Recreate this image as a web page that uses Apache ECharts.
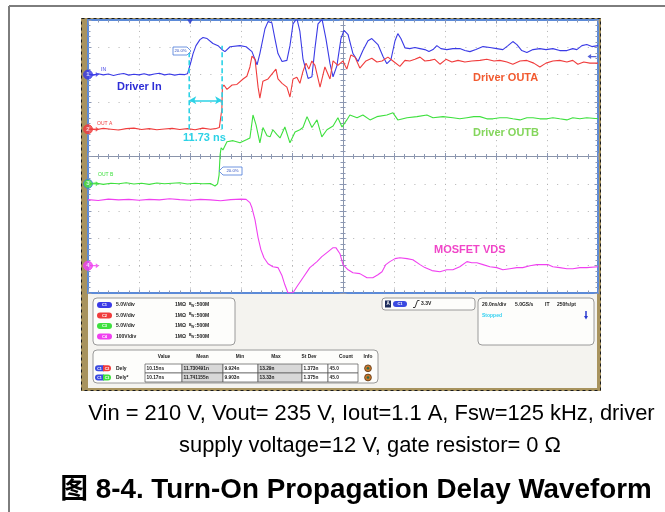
<!DOCTYPE html>
<html><head><meta charset="utf-8">
<script src="https://cdn.jsdelivr.net/npm/echarts@6.0.0/dist/echarts.min.js"></script>
<style>html,body{margin:0;padding:0;background:#fff}#c{width:665px;height:512px}</style>
</head><body><div id="c"></div>
<script>
// ---- time base (ns) ----
const TIME_MIN = -40, TIME_MAX = 160, TIME_DIV = 20;
const DIVS = 10;
// ---- channel settings ----
const chNames = ['IN', 'OUT A', 'OUT B', 'VDS'];
const chColors = ['#3a3ae6', '#f03c3c', '#3ee03e', '#f040f0'];
const chVoltsPerDiv = [5, 5, 5, 100];
const chGroundDiv = [8, 6, 4, 1];
const chScaleLabels = ['5.0V/div', '5.0V/div', '5.0V/div', '100V/div'];

// ---- traces: [time ns, volts] ----
const driverIn = [
[-40,0.1],[-38,-0.1],[-36,0.15],[-34,-0.05],[-32,0.1],[-30,-0.15],[-28,0.05],[-26,0.2],[-24,-0.1],[-22,0.05],[-20,-0.05],[-18,0.15],[-16,-0.1],[-14,0.1],[-12,0.25],[-10,-0.05],[-8,0.1],[-6,-0.1],[-4,0.05],[-2,0],[-1,0.15],
[-0.8,0.2],[-0.4,1.1],[0.4,2.4],[1.2,3.85],[2.35,5.3],[3.9,6.4],[5.1,6.8],[6.7,6.6],[9.0,5.7],[11,5.3],[12.5,4.6],[13.7,4.2],[15.7,5.1],[19.6,5.3],[22,5.1],[24.3,4.2],[26.3,1.8],[27.4,3.85],[29.4,8.4],[30.6,9.7],[32.1,9.5],[33.3,6.6],[34.5,3.85],[36.1,2.4],[38,2.6],[39.2,5.3],[40.4,9.3],[41.9,10.3],[43.1,7.9],[44.3,2.9],[46.3,-0.7],[47.8,-0.4],[49,4.8],[50.2,9.3],[51.8,10.1],[53.3,6.6],[54.9,2.0],[56.1,-0.4],[57.6,1.6],[59.2,6.6],[60.4,8.1],[62,7.3],[63.9,3.85],[65.9,2.4],[67.8,4.4],[69.8,6.2],[71.3,6.6],[73.7,5.5],[75.7,3.3],[77.2,2.0],[78.8,2.75],[80.4,6.2],[81.5,7.5],[82.7,6.6],[84.3,4.9],[86.2,4.76],[88.2,4.95],[90.2,4.76],[92.1,4.58],[93.7,4.21],[95.3,4.58],[96.8,5.31],[98.4,4.76],[100.7,4.58],[103.1,4.76],[105.8,4.76],[107.8,4.4],[109.8,4.21],[112.1,4.58],[114.9,5.13],[117.6,4.95],[120.3,4.76],[122.7,4.58],[124.7,5.31],[126.6,6.05],[128.2,5.5],[130.1,4.4],[132.1,4.03],[134.5,4.58],[137.2,4.76],[139.6,4.58],[142.3,4.76],[145,4.4],[147.8,4.4],[150.1,4.76],[151.7,4.58],[153.7,5.31],[155.6,5.5],[157.6,5.13],[160,5.31]
];
const driverOutA = [
[-40,0.1],[-37,-0.1],[-34,0.15],[-31,0],[-28,-0.15],[-25,0.1],[-22,0.2],[-19,-0.05],[-16,0.1],[-13,-0.1],[-10,0.05],[-7,0.15],[-4,-0.05],[-1,0.1],[2,-0.1],[5,0.2],[8,0],[10,0.1],[11.5,0.3],
[12.2,0.5],[12.5,3.7],[12.7,7.7],[13.3,8.1],[14.5,7.3],[16.5,8.1],[18.4,8.2],[20.8,9.2],[22.3,9.7],[23.5,11.4],[24.3,13.4],[25.5,12.8],[26.7,7.7],[27.4,5.7],[28.6,8.8],[30.6,9.2],[32.5,10.3],[33.7,11.0],[34.5,9.2],[36.1,8.4],[38,7.7],[39.2,5.9],[40.4,9.2],[41.9,9.5],[43.1,8.4],[44.3,10.6],[45.5,12.1],[46.6,11.0],[47.8,12.5],[49,11.7],[51,7.7],[52.9,11.4],[54.9,9.2],[56.1,12.5],[58,11.7],[60,12.5],[61.5,11.0],[63.1,13.6],[64.7,13.2],[66.6,11.2],[69,12.5],[71.3,13.0],[73.3,12.3],[75.3,12.5],[77.6,13.2],[79.6,12.5],[82.3,11.5],[84.3,12.6],[86.2,12.5],[88.2,12.8],[90.2,13.2],[92.1,12.5],[94.1,12.6],[96,12.8],[98,11.9],[100.4,12.8],[102.7,12.3],[105.1,12.6],[107.8,12.3],[110.5,12.5],[113.7,12.6],[116.4,12.8],[119.2,12.5],[121.5,12.6],[124.3,12.3],[126.6,11.9],[129.4,12.5],[132.1,12.6],[134.8,12.1],[137.2,11.4],[139.6,12.1],[142.3,12.5],[145,12.6],[147.8,12.3],[150.1,12.6],[152.1,11.9],[154.4,12.3],[156.8,12.1],[160,12.1]
];
const driverOutB = [
[-40,0],[-37,0.15],[-34,-0.1],[-31,0.1],[-28,0],[-25,0.2],[-22,-0.05],[-19,0.1],[-16,-0.1],[-13,0.15],[-10,0],[-7,0.1],[-4,0.2],[-1,-0.05],[2,0.1],[5,0],[8,0.05],[9.8,-0.4],[10.8,0],
[11,0.5],[11.4,1.6],[11.8,5.3],[12.2,6.6],[12.9,6.2],[14.5,7.7],[16.9,7.9],[19.6,7.5],[22.3,8.1],[23.5,8.4],[24.7,12.6],[25.9,10.8],[27.4,7.5],[28.6,10.3],[30.2,8.8],[31.4,8.6],[32.5,9.9],[34.1,9.0],[35.3,8.4],[37.2,10.4],[39.2,7.5],[41.2,9.5],[43.1,9.9],[44.3,10.3],[45.9,12.3],[47.8,10.3],[49.8,11.7],[51.7,8.6],[53.7,9.9],[56.1,10.6],[58,12.1],[59.6,10.4],[61.5,11.7],[62.7,12.6],[65.5,12.1],[67.8,12.6],[70.6,11.7],[73.3,12.3],[77.2,12.6],[79.6,13.0],[81.5,11.7],[85.1,12.1],[89,12.3],[92.9,12.6],[95.3,12.1],[99.2,12.3],[103.1,12.1],[105.8,11.9],[108.6,12.1],[111.3,12.3],[113.7,12.3],[116.4,11.9],[118.8,11.9],[121.5,12.1],[124.3,12.1],[126.6,11.9],[129.4,11.7],[132.1,12.1],[134.5,12.1],[137.2,11.9],[140,11.9],[142.3,12.1],[145,11.9],[147.8,11.7],[150.1,12.1],[152.9,11.9],[155.6,12.1],[160,11.9]
];
const mosfetVds = [
[-40,242],[-36,239],[-32,244],[-28,241],[-24,243],[-20,240],[-16,243],[-12,241],[-8,245],[-4,242],[0,240],[4,243],[8,241],[12,238],[16,242],[20,244],[22,243],
[23.5,231],[24.3,212],[25.5,168],[26.7,103],[27.8,59],[29,29],[30.6,7],[32.5,-4],[34.5,-7],[36.1,-37],[37.2,-70],[38.4,-99],[40.4,-99],[41.9,-77],[44.3,-44],[47,-7],[49.8,15],[51.7,33],[53.7,48],[56.1,66],[57.2,66],[58.8,44],[60,4],[62,-15],[63.9,-26],[66.6,-29],[69.4,-44],[71.7,-44],[73.7,-33],[75.3,-22],[76.8,4],[78.4,15],[80.4,26],[82.3,29],[85.1,26],[87.4,22],[90.2,4],[92.1,-7],[94.9,-18],[98,-22],[100.7,-15],[103.1,-15],[105.8,-4],[108.6,15],[110.5,11],[112.5,11],[114.9,4],[117.6,-4],[120.3,-7],[122.7,-15],[125.4,-11],[128.2,-7],[130.5,-7],[133.3,0],[136,4],[138.4,4],[140.3,4],[142.3,-4],[145,-7],[147.8,-11],[150.1,-11],[152.9,-7],[155.6,-7],[160,-4]
];
// ---- cursors / measurement ----
const cursorTimes = [-0.3, 12.6];
const delayLabel = '11.73 ns';
const triggerLevel = 3.3;
const measHeaders = ['Value', 'Mean', 'Min', 'Max', 'St Dev', 'Count', 'Info'];
const measRow1 = ['10.15ns', '11.730491n', '9.924n', '13.29n', '1.373n', '45.0'];
const measRow2 = ['10.17ns', '11.741155n', '9.903n', '13.33n', '1.375n', '45.0'];
const captionLine1 = 'Vin = 210 V, Vout= 235 V, Iout=1.1 A, Fsw=125 kHz, driver';
const captionLine2 = 'supply voltage=12 V, gate resistor= 0 Ω';
const figTitle = '图 8-4. Turn-On Propagation Delay Waveform';

const F = 'Arial, "Liberation Sans", "Noto Sans CJK SC", sans-serif';
const BORDER = '#5b8ad8', TICK = '#8c98b4', DOT = '#b2b2b2', CYAN = '#2cd2e6';

function T(x, y, text, size, color, o) {
  o = o || {};
  return {type: 'text', x: x, y: y, z: 30, style: {text: text, fill: color,
    font: (o.bold === false ? '' : 'bold ') + size + 'px ' + F,
    textAlign: o.align || 'left', textVerticalAlign: 'middle'}};
}
function pill(x, y, w, h, color, label) {
  return [{type: 'rect', z: 25, shape: {x: x, y: y - h / 2, width: w, height: h, r: h / 2}, style: {fill: color}},
          T(x + w / 2, y + 0.3, label, 4, '#fff', {align: 'center'})];
}

const g = [];
// page frame
g.push({type: 'line', z: 1, shape: {x1: 9, y1: 6, x2: 665, y2: 6}, style: {stroke: '#7d7d7d', lineWidth: 2}});
g.push({type: 'line', z: 1, shape: {x1: 9, y1: 6, x2: 9, y2: 512}, style: {stroke: '#7d7d7d', lineWidth: 2}});
// scope frame
g.push({type: 'rect', z: -10, shape: {x: 81, y: 18, width: 520, height: 373}, style: {fill: '#a8935e'}});
g.push({type: 'rect', z: -9, shape: {x: 81.5, y: 18.5, width: 519, height: 372}, style: {fill: null, stroke: '#1a1a1a', lineWidth: 1, lineDash: [3, 3]}});
g.push({type: 'rect', z: -8, shape: {x: 88, y: 294, width: 509, height: 94}, style: {fill: '#f4f3ef'}});
// channel panel
g.push({type: 'rect', z: 20, shape: {x: 93, y: 298, width: 142, height: 47, r: 4}, style: {fill: '#fdfdfb', stroke: '#9a9a9a', lineWidth: 1}});
const rowY = [305, 315.5, 326, 336.5];
for (let i = 0; i < 4; i++) {
  g.push(...pill(97, rowY[i], 15, 6, chColors[i], 'C' + (i + 1)));
  g.push(T(116, rowY[i], chScaleLabels[i], 5, '#222'));
  g.push(T(175, rowY[i], '1MΩ', 5, '#222'));
  g.push(T(189, rowY[i] - 1.3, 'B', 3.6, '#222'));
  g.push(T(191.3, rowY[i] + 1, 'W', 3.2, '#222'));
  g.push(T(195, rowY[i], ':500M', 5, '#222'));
}
// trigger panel
g.push({type: 'rect', z: 20, shape: {x: 382, y: 298, width: 93, height: 12, r: 3}, style: {fill: '#fdfdfb', stroke: '#9a9a9a', lineWidth: 1}});
g.push({type: 'rect', z: 25, shape: {x: 385, y: 300.5, width: 6, height: 7}, style: {fill: '#1c2c5c'}});
g.push(T(388, 304.2, 'A', 4.5, '#fff', {align: 'center'}));
g.push(...pill(393, 304, 14, 6, '#3a4ae0', 'C1'));
g.push({type: 'polyline', z: 25, shape: {points: [[413, 307.5], [415, 307.5], [417.5, 300.5], [419.5, 300.5]]}, style: {stroke: '#222', lineWidth: 0.9, fill: null}});
g.push(T(421, 304, '3.3V', 5, '#222'));
// timebase panel
g.push({type: 'rect', z: 20, shape: {x: 478, y: 298, width: 116, height: 47, r: 4}, style: {fill: '#fdfdfb', stroke: '#9a9a9a', lineWidth: 1}});
g.push(T(482, 305, '20.0ns/div', 5, '#222'));
g.push(T(515, 305, '5.0GS/s', 5, '#222'));
g.push(T(545, 305, 'IT', 5, '#222'));
g.push(T(557, 305, '250fs/pt', 5, '#222'));
g.push(T(482, 315.5, 'Stopped', 5, '#33d0f0'));
g.push({type: 'line', z: 25, shape: {x1: 586, y1: 311, x2: 586, y2: 317}, style: {stroke: '#2a3ad0', lineWidth: 1.5}});
g.push({type: 'polygon', z: 25, shape: {points: [[584, 316], [588, 316], [586, 319.5]]}, style: {fill: '#2a3ad0'}});
// measurement panel
g.push({type: 'rect', z: 20, shape: {x: 93, y: 350, width: 285, height: 33, r: 4}, style: {fill: '#fdfdfb', stroke: '#9a9a9a', lineWidth: 1}});
const cellX = [145, 182, 223, 258, 302, 328, 358];
const headX = [164, 202.5, 240, 276, 309, 346, 368];
measHeaders.forEach((h, i) => g.push(T(headX[i], 357, h, 4.8, '#222', {align: 'center'})));
[[measRow1, 364, 368.3, '#f03c3c', 'C2', 'Dely'], [measRow2, 373, 377.5, '#3ee03e', 'C3', 'Dely*']].forEach(r => {
  const row = r[0], top = r[1], cy = r[2];
  g.push({type: 'rect', z: 25, shape: {x: 95, y: cy - 3, width: 9, height: 6, r: [3, 0, 0, 3]}, style: {fill: '#3a4ae0'}});
  g.push({type: 'rect', z: 25, shape: {x: 103, y: cy - 3, width: 8, height: 6, r: [0, 3, 3, 0]}, style: {fill: r[3]}});
  g.push(T(99.5, cy + 0.3, 'C1', 3.6, '#fff', {align: 'center'}));
  g.push(T(107, cy + 0.3, r[4], 3.6, '#fff', {align: 'center'}));
  g.push(T(116, cy, r[5], 5, '#222'));
  for (let i = 0; i < 6; i++) {
    g.push({type: 'rect', z: 24, shape: {x: cellX[i], y: top, width: cellX[i + 1] - cellX[i], height: 9},
      style: {fill: (i === 1 || i === 3) ? '#d8d8d8' : '#ffffff', stroke: '#555', lineWidth: 0.7}});
    g.push(T(cellX[i] + 1.5, cy, row[i], 4.8, '#222'));
  }
  g.push({type: 'circle', z: 25, shape: {cx: 368, cy: cy, r: 3.4}, style: {fill: '#c8782c', stroke: '#5a3210', lineWidth: 0.8}});
  g.push({type: 'circle', z: 26, shape: {cx: 368, cy: cy, r: 1.3}, style: {fill: '#2e6a4a'}});
});
// in-plot annotations
g.push(T(101, 70, chNames[0], 5, chColors[0], {bold: false}));
g.push(T(97, 123.5, chNames[1], 5, chColors[1], {bold: false}));
g.push(T(98, 174.5, chNames[2], 5, chColors[2], {bold: false}));
g.push(T(117, 87, 'Driver In', 11, '#2d2dd6'));
g.push(T(473, 78, 'Driver OUTA', 11, '#f25a30'));
g.push(T(473, 133, 'Driver OUTB', 11, '#84d65c'));
g.push(T(434, 250, 'MOSFET VDS', 11, '#f046c8'));
g.push(T(183, 138, delayLabel, 11, CYAN));
// 20% tags
g.push({type: 'polygon', z: 28, shape: {points: [[173, 47], [187, 47], [191, 51], [187, 55], [173, 55]]}, style: {fill: '#fff', stroke: '#4a7ad8', lineWidth: 0.8}});
g.push(T(180.5, 51.2, '20.0%', 4.3, '#3050c0', {align: 'center', bold: false}));
g.push({type: 'polygon', z: 28, shape: {points: [[219, 171], [223, 167], [242, 167], [242, 175], [223, 175]]}, style: {fill: '#fff', stroke: '#4a7ad8', lineWidth: 0.8}});
g.push(T(232.5, 171.2, '20.0%', 4.3, '#3050c0', {align: 'center', bold: false}));
// captions
g.push(T(371.5, 414, captionLine1, 21.9, '#000', {bold: false, align: 'center'}));
g.push(T(370, 445.5, captionLine2, 21.9, '#000', {bold: false, align: 'center'}));
g.push(T(356, 490, figTitle, 27.8, '#000', {align: 'center'}));

// ---- axes ----
function xAx(pos, offset, inside, split, color, w) {
  return {type: 'value', min: TIME_MIN, max: TIME_MAX, interval: TIME_DIV, position: pos, offset: offset,
    axisLine: {show: true, onZero: false, lineStyle: {color: color, width: w}},
    axisTick: {show: true, inside: inside, length: 3.5, lineStyle: {color: TICK}},
    minorTick: {show: true, splitNumber: 5, length: 2.5, lineStyle: {color: TICK}},
    axisLabel: {show: false}, splitLine: {show: split, lineStyle: {color: DOT, width: 1, type: [1, 4.46]}}};
}
function yAx(pos, offset, inside, split, color, w) {
  return {type: 'value', min: 0, max: DIVS, interval: 1, position: pos, offset: offset,
    axisLine: {show: true, onZero: false, lineStyle: {color: color, width: w}},
    axisTick: {show: true, inside: inside, length: 3.5, lineStyle: {color: TICK}},
    minorTick: {show: true, splitNumber: 5, length: 2.5, lineStyle: {color: TICK}},
    axisLabel: {show: false}, splitLine: {show: split, lineStyle: {color: DOT, width: 1, type: [1, 9.2]}}};
}
const xAxes = [xAx('bottom', 0, true, true, BORDER, 2), xAx('top', 0, true, false, BORDER, 2),
  xAx('bottom', -136.5, true, false, '#8a94aa', 1), xAx('bottom', -136.5, false, false, '#8a94aa', 1)];
const yAxes = [yAx('left', 0, true, true, BORDER, 2), yAx('right', 0, true, false, BORDER, 2),
  yAx('left', -255, true, false, '#8a94aa', 1), yAx('left', -255, false, false, '#8a94aa', 1)];
for (let i = 0; i < 4; i++) {
  yAxes.push({type: 'value', show: false, min: -chGroundDiv[i] * chVoltsPerDiv[i], max: (DIVS - chGroundDiv[i]) * chVoltsPerDiv[i]});
}
const AX = i => 4 + i;

const traces = [driverIn, driverOutA, driverOutB, mosfetVds];
const series = traces.map((d, i) => ({type: 'line', data: d, yAxisIndex: AX(i), symbol: 'none', clip: true, z: 5,
  lineStyle: {color: chColors[i], width: 1.1}}));
// cursors
cursorTimes.forEach((t, k) => series.push({type: 'line', yAxisIndex: AX(1), symbol: 'none', z: 6,
  data: [[t, 0], [t, k === 0 ? 14 : 15.3]], lineStyle: {color: CYAN, width: 1.6, type: [5, 3]},
  markLine: k === 0 ? {silent: true, symbol: ['arrow', 'arrow'], symbolSize: [6, 7], label: {show: false},
    lineStyle: {color: CYAN, width: 1.6, type: 'solid'},
    data: [[{coord: [cursorTimes[0], 5.3]}, {coord: [cursorTimes[1], 5.3]}]]} : undefined}));
// ground markers
chColors.forEach((c, i) => {
  series.push({type: 'scatter', yAxisIndex: AX(i), clip: false, z: 12, data: [[TIME_MIN, 0]], symbol: 'circle', symbolSize: 9,
    itemStyle: {color: c, borderColor: i === 2 ? '#3a7ae0' : c, borderWidth: 1},
    label: {show: true, position: 'inside', formatter: String(i + 1), color: '#fff', fontSize: 6, fontWeight: 'bold', fontFamily: F}});
  series.push({type: 'scatter', yAxisIndex: AX(i), clip: false, z: 12, data: [[TIME_MIN, 0]], symbol: 'path://M0,4L6,4L6,1L10,5L6,9L6,6L0,6Z',
    symbolSize: [8, 5], symbolOffset: [7, 0], itemStyle: {color: c}});
});
// trigger position + level markers
series.push({type: 'scatter', yAxisIndex: AX(0), clip: false, z: 12, data: [[0, 9.7]], symbol: 'triangle', symbolRotate: 180, symbolSize: [6, 5], itemStyle: {color: '#2a3ad0'}});
series.push({type: 'scatter', yAxisIndex: AX(0), clip: false, z: 12, data: [[TIME_MAX, triggerLevel]], symbol: 'path://M10,4L4,4L4,1L0,5L4,9L4,6L10,6Z',
  symbolSize: [9, 5], symbolOffset: [-6, 0], itemStyle: {color: '#2a3ad0'}});

const chart = echarts.init(document.getElementById('c'), null, {renderer: 'canvas', width: 665, height: 512});
chart.setOption({
  animation: false,
  backgroundColor: '#ffffff',
  grid: {left: 88, top: 20, width: 510, height: 273, containLabel: false, show: true, backgroundColor: '#ffffff', borderWidth: 0},
  xAxis: xAxes, yAxis: yAxes, series: series,
  graphic: {elements: g}
});
</script></body></html>
